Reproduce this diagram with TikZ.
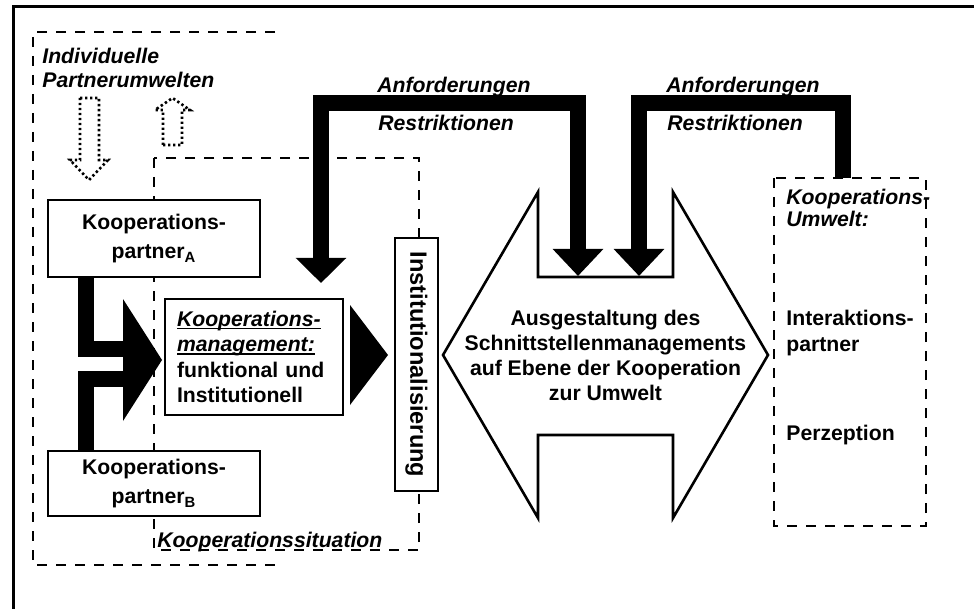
\documentclass[tikz,border=0pt]{standalone}
\usepackage{fontspec}
\setmainfont{Liberation Sans}
\usetikzlibrary{arrows.meta}
\newcommand\ulin[1]{\leavevmode\setbox0\hbox{#1}\rlap{\rule[-1.6pt]{\wd0}{0.8pt}}\box0}
\tikzset{box/.style={draw,line width=1.4pt,fill=white,align=center,inner sep=0pt,font=\fontsize{10.6}{12.8}\selectfont\bfseries},
  txt/.style={inner sep=0pt,font=\fontsize{10.6}{12.8}\selectfont\bfseries},
  lbl/.style={inner sep=0pt,font=\fontsize{10.6}{12.8}\selectfont\bfseries\itshape},
  dsh/.style={line width=1.4pt,dash pattern=on 5pt off 4.5pt},
  dotbox/.style={line width=1.3pt,dash pattern=on 1.2pt off 1.3pt},
  fat/.style={line width=8pt}}
\tikzset{fathead/.style={{Triangle[width=24.5pt,length=12.5pt]}-{Triangle[width=24.5pt,length=13.5pt]}},
  fatheadl/.style={{Triangle[width=24.5pt,length=13.5pt]}-}}

\begin{document}
\begin{tikzpicture}[x=0.5pt,y=-0.5pt]
  \useasboundingbox (0,0) rectangle (974,609);
  \draw[line width=1.5pt] (13,609) -- (13,7) -- (974,7);
  \draw[dsh] (275,32) -- (33,32) -- (33,565) -- (275,565);
  \draw[dsh] (154,158) rectangle (419,550);
  \draw[dsh] (774,178) rectangle (926,526);
  \draw[dotbox] (80,98) -- (99,98) -- (99,160) -- (108,160) -- (89,180) -- (70,160) -- (80,160) -- cycle;
  \draw[dotbox] (163,145) -- (182,145) -- (182,110) -- (190,110) -- (172.5,98) -- (155,110) -- (163,110) -- cycle;
  \node[lbl,anchor=base west,align=left] (indiv) at (42,88) {Individuelle\\[-0.6pt]Partnerumwelten};
  \node[box,minimum width=106pt,minimum height=38.5pt] (pa) at (154,238.5) {Kooperations-\\[2pt]partner\textsubscript{A}};
  \node[box,minimum width=106pt,minimum height=32.5pt] (pb) at (154,483.5) {Kooperations-\\[2pt]partner\textsubscript{B}};
  \coordinate (fa) at (124,348.5);
  \coordinate (fb) at (124,378.5);
  \draw[fat] ([xshift=-34.25pt]pa.south) |- (fa);
  \draw[fat] ([xshift=-34.25pt]pb.north) |- (fb);
  \coordinate (f1) at (123,299);
  \coordinate (f2) at (162,360);
  \coordinate (f3) at (123,421);
  \fill (f1) -- (f2) -- (f3) -- cycle;
  \node[box,minimum width=89pt,minimum height=58pt,text width=77pt,inner xsep=6pt,align=left] (km) at (254,357) {\ulin{\textit{Kooperations-}}\\\ulin{\textit{management:}}\\funktional und\\Institutionell};
  \coordinate (g1) at (350,305);
  \coordinate (g2) at (388,355);
  \coordinate (g3) at (350,405);
  \fill (g1) -- (g2) -- (g3) -- cycle;
  \node[box,rotate=-90,minimum width=126.5pt,minimum height=21.5pt,font=\fontsize{11.8}{14}\selectfont\bfseries] (inst) at (416.5,364.5) {Institutionalisierung};
  \node[lbl,anchor=base west] (ksit) at (157,547) {Kooperationssituation};
  \draw[line width=1.3pt,fill=white] (443,355) -- (538,192) -- (538,277) -- (673,277) -- (673,192) -- (768,355)
    -- (673,518) -- (673,435) -- (538,435) -- (538,518) -- cycle;
  \node[txt,align=center,font=\fontsize{10.6}{12.5}\selectfont\bfseries] (ausg) at (605.5,355) {Ausgestaltung des\\Schnittstellenmanagements\\auf Ebene der Kooperation\\zur Umwelt};
  \coordinate (k1) at (321,283);
  \coordinate (n1) at (578,276);
  \coordinate (n2) at (639,276);
  \coordinate (ku) at (843,178);
  \draw[fat,fathead] (k1) -- ++(0,-179.5) -| (n1);
  \draw[fat,fatheadl] (n2) -- ++(0,-172.5) -| (ku);
  \node[lbl,anchor=base west] (anf1) at (377,93) {Anforderungen};
  \node[lbl,anchor=base west] (res1) at (378,131) {Restriktionen};
  \node[lbl,anchor=base west] (anf2) at (666,93) {Anforderungen};
  \node[lbl,anchor=base west] (res2) at (667,131) {Restriktionen};
  \node[lbl,anchor=base west,align=left] (ku1) at (786,227) {Kooperations-\\[-1.5pt]Umwelt:};
  \node[txt,anchor=base west,align=left] (ip) at (786,351) {Interaktions-\\partner};
  \node[txt,anchor=base west] (perz) at (786,440) {Perzeption};
\end{tikzpicture}
\end{document}
